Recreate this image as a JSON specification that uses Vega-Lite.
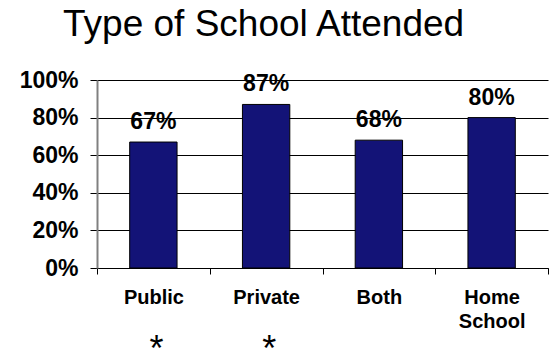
{
  "$schema": "https://vega.github.io/schema/vega-lite/v6.json",
  "autosize": "none",
  "width": 451,
  "height": 188,
  "padding": {"left": 97, "top": 80, "right": 9, "bottom": 82},
  "background": "white",
  "config": {"view": {"stroke": null}, "font": "Liberation Sans"},
  "title": {
    "text": "Type of School Attended",
    "font": "Liberation Sans",
    "fontSize": 37,
    "fontWeight": "normal",
    "color": "black",
    "anchor": "start",
    "frame": "group",
    "baseline": "alphabetic",
    "dx": -34,
    "dy": 6,
    "offset": 2
  },
  "data": {
    "values": [
      {"school": "Public", "share": 0.67, "label": "67%", "note": "*"},
      {"school": "Private", "share": 0.87, "label": "87%", "note": "*"},
      {"school": "Both", "share": 0.68, "label": "68%", "note": ""},
      {"school": "Home School", "share": 0.80, "label": "80%", "note": ""}
    ]
  },
  "encoding": {
    "x": {
      "field": "school",
      "type": "nominal",
      "sort": null,
      "scale": {"paddingInner": 0, "paddingOuter": 0},
      "axis": {
        "title": null,
        "labelAngle": 0,
        "labelFont": "Liberation Sans",
        "labelFontSize": 20,
        "labelFontWeight": "bold",
        "labelColor": "black",
        "labelBaseline": "top",
        "labelPadding": 13,
        "labelLineHeight": 24,
        "labelExpr": "datum.value == 'Home School' ? ['Home', 'School'] : datum.value",
        "tickBand": "extent",
        "tickColor": "black",
        "tickSize": 6,
        "domainColor": "black",
        "grid": false
      }
    },
    "y": {
      "field": "share",
      "type": "quantitative",
      "scale": {"domain": [0, 1], "nice": false},
      "axis": {
        "title": null,
        "values": [0, 0.2, 0.4, 0.6, 0.8, 1],
        "format": ".0%",
        "labelOverlap": false,
        "labelFont": "Liberation Sans",
        "labelFontSize": 23,
        "labelFontWeight": "bold",
        "labelColor": "black",
        "labelPadding": 12,
        "tickColor": "black",
        "tickSize": 7,
        "domainColor": "#808080",
        "domainWidth": 2,
        "grid": true,
        "gridColor": "black",
        "gridOpacity": 1,
        "gridWidth": 1
      }
    }
  },
  "layer": [
    {
      "mark": {"type": "bar", "width": {"band": 0.42}, "color": "#131377", "stroke": "black", "strokeWidth": 1}
    },
    {
      "mark": {"type": "text", "fontSize": 23, "fontWeight": "bold", "font": "Liberation Sans", "baseline": "alphabetic", "dy": -13, "color": "black"},
      "encoding": {
        "text": {"field": "label"}
      }
    },
    {
      "mark": {"type": "text", "fontSize": 36, "fontWeight": "normal", "font": "Liberation Sans", "baseline": "top", "dx": 3, "color": "black"},
      "encoding": {
        "y": {"datum": -0.345},
        "text": {"field": "note"}
      }
    }
  ]
}
